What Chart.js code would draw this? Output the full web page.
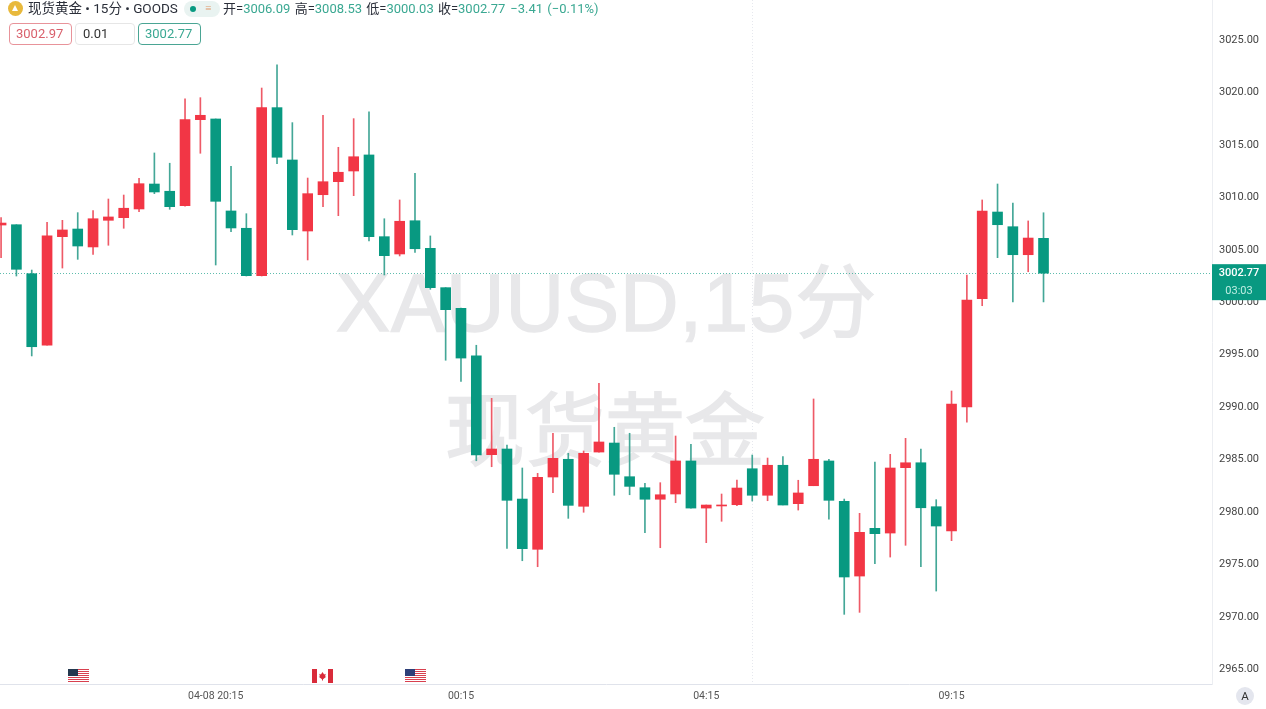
<!DOCTYPE html>
<html lang="zh">
<head>
<meta charset="utf-8">
<title>XAUUSD 15分</title>
<script src="https://cdn.jsdelivr.net/npm/chart.js@4"></script>
<style>
  html, body { margin: 0; padding: 0; background: #fff; }
  body { width: 1266px; height: 709px; position: relative; overflow: hidden; font-family: Roboto, "Noto Sans CJK SC", sans-serif; }
  canvas { position: absolute; left: 0; top: 0; }
  .wm { position: absolute; color: #e8e8ea; -webkit-text-stroke: 1.5px #e8e8ea; white-space: nowrap; line-height: 1; }
  #wm1 { left: 336px; top: 237px; font: 81px "Liberation Sans", "Noto Sans CJK SC", sans-serif; letter-spacing: 1px; }
  #wm2 { left: 445px; top: 366px; font: 80px "Noto Sans CJK SC", sans-serif; }
  .hd { position: absolute; white-space: nowrap; }
  #logo { left: 8px; top: 1px; width: 15px; height: 15px; border-radius: 50%; background: #e8b93c; }
  #logo::after { content: ""; position: absolute; left: 4px; top: 4px; border-left: 3.5px solid transparent; border-right: 3.5px solid transparent; border-bottom: 6px solid #fff; }
  #name { left: 28px; top: 0; font-size: 13.5px; line-height: 17px; color: #2a2e39; }
  #pill { left: 184px; top: 1px; width: 36px; height: 16px; border-radius: 8px; background: #e9f3f1; }
  #pill i { position: absolute; left: 6px; top: 5px; width: 6px; height: 6px; border-radius: 50%; background: #089981; }
  #pill b { position: absolute; left: 21px; top: 1px; font: 11px/14px Roboto; color: #e0986a; }
  #ohlc { left: 223px; top: 0; font-size: 13px; line-height: 17px; color: #2a2e39; word-spacing: 1px; }
  #ohlc span { color: #3aa892; }
  #ohlc em { font-style: normal; margin-left: 5px; }
  .box { position: absolute; top: 23px; height: 20px; border: 1px solid #ddd; border-radius: 4px; font-size: 13px; line-height: 20px; box-sizing: content-box; padding-left: 6px; }
  #b1 { left: 9px; width: 55px; border-color: #e8939a; color: #d9606c; }
  #b2 { left: 75px; width: 51px; border-color: #e6e6e6; color: #333; padding-left: 7px; }
  #b3 { left: 138px; width: 55px; border-color: #4aa594; color: #3aa892; }
  .flag { position: absolute; top: 669px; }
  #auto { position: absolute; left: 1236px; top: 687px; width: 18px; height: 18px; border-radius: 50%; background: #e4e6ee; color: #333; font-size: 11.5px; line-height: 18px; text-align: center; }
</style>
</head>
<body>
<div class="wm" id="wm1">XAUUSD,15分</div>
<div class="wm" id="wm2">现货黄金</div>
<canvas id="kline" width="1266" height="709"></canvas>

<div class="hd" id="logo"></div>
<div class="hd" id="name">现货黄金 • 15分 • GOODS</div>
<div class="hd" id="pill"><i></i><b>≡</b></div>
<div class="hd" id="ohlc">开=<span>3006.09</span> 高=<span>3008.53</span> 低=<span>3000.03</span> 收=<span>3002.77</span><em><span>−3.41 (−0.11%)</span></em></div>
<div class="box" id="b1">3002.97</div>
<div class="box" id="b2">0.01</div>
<div class="box" id="b3">3002.77</div>

<svg class="flag" style="left:68px" width="21" height="14" viewBox="0 0 21 14"><rect width="21" height="14" fill="#fff"/><path d="M0 .5h21M0 2.5h21M0 4.5h21M0 6.5h21M0 8.5h21M0 10.5h21M0 12.5h21" stroke="#d8404f" stroke-width="1"/><rect width="10" height="7" fill="#24384f"/></svg>
<svg class="flag" style="left:312px" width="21" height="14" viewBox="0 0 21 14"><rect width="21" height="14" fill="#fff"/><rect width="5" height="14" fill="#d92b3a"/><rect x="16" width="5" height="14" fill="#d92b3a"/><path d="M10.5 3l1.6 2.4 1.6-.6-.6 2.6 1.2.4-3.3 2.4v1.3h-1v-1.3L6.7 7.8l1.2-.4-.6-2.6 1.6.6z" fill="#d92b3a"/></svg>
<svg class="flag" style="left:405px" width="21" height="14" viewBox="0 0 21 14"><rect width="21" height="14" fill="#fff"/><path d="M0 .5h21M0 2.5h21M0 4.5h21M0 6.5h21M0 8.5h21M0 10.5h21M0 12.5h21" stroke="#d8404f" stroke-width="1"/><rect width="10" height="7" fill="#2d3f78"/></svg>
<div id="auto">A</div>

<script>
const opens = [3007.36, 3007.39, 3002.72, 2995.90, 3006.25, 3006.98, 3005.27, 3007.81, 3008.06, 3008.89,
    3011.27, 3010.58, 3009.20, 3017.40, 3017.47, 3008.70, 3007.05, 3002.53, 3018.55, 3013.56,
    3006.79, 3010.25, 3011.49, 3012.51, 3014.04, 3006.25, 3004.60, 3007.77, 3005.14, 3001.39,
    2999.42, 2994.88, 2985.47, 2986.01, 2981.24, 2976.45, 2983.34, 2985.03, 2980.55, 2985.72,
    2986.58, 2983.37, 2982.32, 2981.22, 2981.72, 2984.87, 2980.38, 2980.58, 2980.70, 2984.13,
    2981.60, 2984.46, 2980.80, 2982.51, 2984.87, 2981.02, 2973.90, 2978.45, 2978.00, 2984.23,
    2984.70, 2980.51, 2978.19, 2990.01, 3000.34, 3008.60, 3007.20, 3004.53, 3006.09];
const highs = [3008.06, 3007.39, 3003.07, 3007.62, 3007.81, 3008.54, 3008.73, 3009.84, 3010.22, 3011.82,
    3014.23, 3013.25, 3019.38, 3019.50, 3017.47, 3012.96, 3008.44, 3020.42, 3022.62, 3017.12,
    3011.84, 3017.82, 3014.77, 3017.50, 3018.14, 3007.96, 3009.75, 3012.29, 3006.32, 3001.39,
    2999.45, 2995.90, 2990.84, 2986.39, 2984.20, 2983.69, 2987.51, 2985.60, 2985.82, 2992.27,
    2988.08, 2987.51, 2982.74, 2982.80, 2987.25, 2986.46, 2980.67, 2981.72, 2983.05, 2985.44,
    2985.15, 2985.28, 2983.03, 2990.78, 2985.03, 2981.24, 2979.88, 2984.77, 2985.50, 2987.03,
    2986.01, 2981.18, 2991.54, 3002.60, 3009.75, 3011.27, 3009.46, 3007.75, 3008.53];
const lows = [3004.25, 3002.50, 2994.88, 2995.90, 3003.26, 3004.09, 3004.57, 3005.43, 3007.05, 3008.63,
    3010.35, 3008.86, 3009.15, 3014.20, 3003.55, 3006.73, 3002.50, 3002.50, 3013.21, 3006.41,
    3004.03, 3009.11, 3008.25, 3010.16, 3005.84, 3002.60, 3004.41, 3004.76, 3001.23, 2994.47,
    2992.46, 2984.89, 2984.32, 2976.54, 2975.36, 2974.79, 2981.84, 2979.40, 2979.98, 2985.72,
    2981.60, 2981.65, 2978.03, 2976.60, 2980.89, 2980.38, 2977.08, 2979.12, 2980.60, 2981.05,
    2981.08, 2980.67, 2980.19, 2982.51, 2979.31, 2970.25, 2970.44, 2975.08, 2975.71, 2976.83,
    2974.79, 2972.47, 2977.27, 2988.56, 2999.67, 3004.25, 3000.02, 3002.91, 3000.03];
const closes = [3007.55, 3003.14, 2995.76, 3006.32, 3006.89, 3005.36, 3007.96, 3008.13, 3008.96, 3011.30,
    3010.51, 3009.11, 3017.40, 3017.82, 3009.62, 3007.08, 3002.53, 3018.55, 3013.82, 3006.92,
    3010.35, 3011.49, 3012.39, 3013.87, 3006.25, 3004.44, 3007.72, 3005.10, 3001.39, 2999.29,
    2994.68, 2985.44, 2986.01, 2981.12, 2976.51, 2983.31, 2985.12, 2980.64, 2985.60, 2986.68,
    2983.60, 2982.45, 2981.22, 2981.65, 2984.87, 2980.38, 2980.67, 2980.67, 2982.29, 2981.60,
    2984.46, 2980.67, 2981.82, 2985.03, 2981.12, 2973.81, 2978.07, 2977.94, 2984.20, 2984.70,
    2980.41, 2978.67, 2990.30, 3000.21, 3008.70, 3007.39, 3004.53, 3006.12, 3002.77];

const priceTicks = [2965, 2970, 2975, 2980, 2985, 2990, 2995, 3000, 3005, 3010, 3015, 3020, 3025];
const timeTickBars = [14, 30, 46, 62];
const timeTickLabels = ["04-08 20:15", "00:15", "04:15", "09:15"];

const UP = '#f23645';
const DOWN = '#089981';
const UP_WICK = '#ee5a67';
const DOWN_WICK = '#44a797';
const lastPrice = 3002.77;
const countdown = "03:03";

const bars = opens.map((_, i) => i);
const isUp = i => closes[i] >= opens[i];

// 现价虚线和右侧价格标签
const priceLine = {
    id: 'priceLine',
    beforeDatasetsDraw(chart) {
        const { ctx, chartArea, scales } = chart;
        const y = Math.round(scales.y.getPixelForValue(lastPrice)) + 0.5;
        const x = Math.round(scales.x.getPixelForValue(49)) + 0.5;
        ctx.save();
        ctx.lineWidth = 1;
        ctx.setLineDash([1, 2]);
        ctx.strokeStyle = '#e6e8ee';
        ctx.beginPath();
        ctx.moveTo(x, 0);
        ctx.lineTo(x, chartArea.bottom);
        ctx.stroke();
        ctx.strokeStyle = 'rgba(8, 153, 129, 0.65)';
        ctx.beginPath();
        ctx.moveTo(0, y);
        ctx.lineTo(chartArea.right, y);
        ctx.stroke();
        ctx.restore();
    },
    afterDraw(chart) {
        const { ctx, chartArea, scales } = chart;
        const y = scales.y.getPixelForValue(lastPrice);
        const left = chartArea.right;
        ctx.save();
        ctx.fillStyle = DOWN;
        ctx.fillRect(left, y - 9, 54, 36);
        ctx.textAlign = 'center';
        ctx.textBaseline = 'middle';
        ctx.fillStyle = '#fff';
        ctx.font = '500 11px Roboto';
        ctx.fillText(lastPrice.toFixed(2), left + 27, y + 0.5);
        ctx.fillStyle = '#bfeee3';
        ctx.font = '11px Roboto';
        ctx.fillText(countdown, left + 27, y + 18);
        ctx.restore();
    }
};

new Chart(document.getElementById('kline'), {
    type: 'bar',
    data: {
        labels: bars,
        datasets: [
            { data: bars.map(i => [Math.min(opens[i], closes[i]), Math.max(opens[i], closes[i])]), backgroundColor: bars.map(i => isUp(i) ? UP : DOWN), barThickness: 10, order: 1, minBarLength: 1 },
            { data: bars.map(i => [lows[i], highs[i]]), backgroundColor: bars.map(i => isUp(i) ? UP_WICK : DOWN_WICK), barThickness: 1, order: 2 }
        ]
    },
    options: {
        responsive: false,
        animation: false,
        events: [],
        grouped: false,
        layout: { padding: 0 },
        plugins: { legend: { display: false }, tooltip: { enabled: false } },
        scales: {
            x: {
                type: 'linear',
                offset: false,
                min: -0.07,
                max: 78.99,
                grid: { display: false, drawTicks: false },
                border: { color: '#e0e3eb' },
                afterBuildTicks: scale => { scale.ticks = timeTickBars.map(value => ({ value })); },
                afterFit: scale => { scale.height = 25; scale.paddingLeft = 0; scale.paddingRight = 0; },
                ticks: {
                    autoSkip: false,
                    maxRotation: 0,
                    padding: 6,
                    color: '#555',
                    font: { family: 'Roboto', size: 10.5 },
                    callback: value => timeTickLabels[timeTickBars.indexOf(value)]
                }
            },
            y: {
                position: 'right',
                min: 2963.61,
                max: 3028.81,
                grid: { display: false, drawTicks: false },
                border: { color: '#eceef2' },
                afterBuildTicks: scale => { scale.ticks = priceTicks.map(value => ({ value })); },
                afterFit: scale => { scale.width = 54; scale.paddingTop = 0; scale.paddingBottom = 0; },
                ticks: {
                    padding: 7,
                    color: '#444',
                    font: { family: 'Roboto', size: 11 },
                    callback: value => value.toFixed(2)
                }
            }
        }
    },
    plugins: [priceLine]
});
</script>
</body>
</html>
